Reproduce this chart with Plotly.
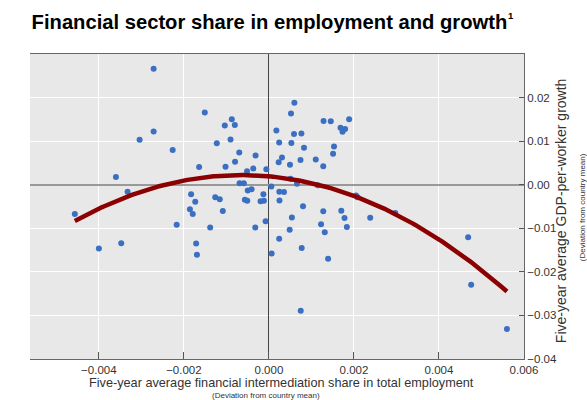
import numpy as np
import plotly.graph_objects as go

# Scatter data (deviation from country mean)
fin_share = [
    -0.002712, -0.001509, -0.000873, -0.001038, -0.000802, 0.000175, -0.002712, -0.003042,
    -0.001226, -0.000903, 0.000241, -0.002264, -0.000698, -0.000314, -0.000797, 0.000229,
    -0.001642, -0.001021, -0.000368, -0.000514, -0.000061, -0.003599, -0.000691, -0.000590,
    0.000057, -0.000498, -0.000408, -0.003325, -0.001830, -0.000130, 0.000245, 0.000354,
    -0.001262, -0.001156, -0.000566, -0.000509, -0.000196, -0.000118, 0.000248, -0.001733,
    -0.004566, -0.001858, -0.001792, -0.001085, -0.002170, -0.001382, -0.000321, -0.000078,
    -0.001712, -0.001693, 0.000064, -0.004000, -0.003474, 0.000241, 0.000599, 0.000519,
    0.001285, 0.001455, 0.001887, 0.001684, 0.001792, 0.001731, 0.000590, 0.000764,
    0.000528, 0.000825, 0.001531, 0.001509, 0.000307, 0.000743, 0.001101, 0.000495,
    0.001278, 0.000507, 0.000660, 0.001149, 0.002050, 0.002085, 0.000802, 0.002972,
    0.001278, 0.001703, 0.000540, 0.001778, 0.002382, 0.001226, 0.000488, 0.001314,
    0.001833, 0.000771, 0.001392, 0.000748, 0.004686, 0.004757, 0.005599,
]
gdp_growth = [
    0.02664, 0.01657, 0.01503, 0.01359, 0.01373, 0.01245, 0.01222, 0.01030,
    0.00954, 0.01039, 0.00970, 0.00794, 0.00741, 0.00668, 0.00526, 0.00513,
    0.00405, 0.00410, 0.00371, 0.00307, 0.00355, 0.00176, 0.00032, 0.00032,
    -0.00041, -0.00133, -0.00105, -0.00160, -0.00220, -0.00220, -0.00162, -0.00167,
    -0.00288, -0.00334, -0.00346, -0.00366, -0.00380, -0.00366, -0.00362, -0.00389,
    -0.00670, -0.00561, -0.00670, -0.00602, -0.00918, -0.00984, -0.00984, -0.00838,
    -0.01350, -0.01609, -0.01579, -0.01465, -0.01341, -0.01243, 0.01881, 0.01634,
    0.01465, 0.01458, 0.01503, 0.01309, 0.01281, 0.01213, 0.01165, 0.01176,
    0.00959, 0.00847, 0.00879, 0.00709, 0.00627, 0.00565, 0.00581, 0.00458,
    0.00421, 0.00137, 0.00023, -0.00011, -0.00247, -0.00286, -0.00494, -0.00652,
    -0.00609, -0.00595, -0.00755, -0.00762, -0.00757, -0.00906, -0.01032, -0.01089,
    -0.00968, -0.01455, -0.01700, -0.02890, -0.01204, -0.02295, -0.03309,
]

# Quadratic fit coefficients (y = a*x^2 + b*x + c)
fit_coefs = [-685.8, -0.883, 0.00194]

x_ticks = [-0.004, -0.002, 0.000, 0.002, 0.004, 0.006]
y_ticks = [0.02, 0.01, 0.00, -0.01, -0.02, -0.03, -0.04]

curve_x = np.linspace(min(fin_share), max(fin_share), 300)
curve_y = np.polyval(fit_coefs, curve_x)

FONT = "Liberation Sans, Arial, sans-serif"

fig = go.Figure()
fig.add_trace(go.Scatter(
    x=fin_share, y=gdp_growth, mode="markers",
    marker=dict(size=6, color="#3a6fc2"),
    showlegend=False, hoverinfo="skip",
))
fig.add_trace(go.Scatter(
    x=curve_x, y=curve_y, mode="lines",
    line=dict(color="#8b0000", width=4.5),
    showlegend=False, hoverinfo="skip",
))

fig.update_layout(
    width=587, height=400,
    margin=dict(l=30, r=63.4, t=54, b=40.5),
    paper_bgcolor="white", plot_bgcolor="#e8e8e8",
    font=dict(family=FONT, color="#333333"),
    title=dict(
        text="<b>Financial sector share in employment and growth</b>",
        font=dict(size=20.2, color="black", family=FONT),
        x=0.459, xanchor="center", xref="container",
        y=0.946, yanchor="middle", yref="container",
    ),
    xaxis=dict(
        range=[-0.00562, 0.006], tickvals=x_ticks, tickformat=".3f",
        ticks="inside", ticklen=7, tickcolor="#555555",
        showgrid=True, gridcolor="white", gridwidth=1,
        zeroline=True, zerolinecolor="#444444", zerolinewidth=1,
        showline=True, linecolor="#666666", linewidth=1, mirror=True,
        tickfont=dict(size=11.5, color="#333333"),
    ),
    yaxis=dict(
        range=[-0.04, 0.03], tickvals=y_ticks, tickformat=".2f", side="right",
        ticks="inside", ticklen=5, tickcolor="#555555",
        showgrid=True, gridcolor="white", gridwidth=1,
        zeroline=True, zerolinecolor="#999999", zerolinewidth=2,
        showline=True, linecolor="#666666", linewidth=1,
        tickfont=dict(size=11.5, color="#333333"),
    ),
    annotations=[
        dict(text="<b>1</b>", xref="paper", yref="paper", x=0.9735, y=1.127,
             xanchor="center", yanchor="middle", showarrow=False,
             font=dict(size=9.5, color="black")),
        dict(text="Five-year average financial intermediation share in total employment",
             xref="paper", yref="paper", x=0.5085, y=0, xanchor="center", yanchor="middle",
             yshift=-23.5, showarrow=False, font=dict(size=12.7, color="#333333")),
        dict(text="(Deviation from country mean)",
             xref="paper", yref="paper", x=0.478, y=0, xanchor="center", yanchor="middle",
             yshift=-36.5, showarrow=False, font=dict(size=8, color="#333333")),
        dict(text="Five-year average GDP-per-worker growth",
             xref="paper", yref="paper", x=1, y=0.486, xanchor="center", yanchor="middle",
             xshift=36.4, textangle=-90, showarrow=False, font=dict(size=14, color="#333333")),
        dict(text="(Deviation from country mean)",
             xref="paper", yref="paper", x=1, y=0.499, xanchor="center", yanchor="middle",
             xshift=58.4, textangle=-90, showarrow=False, font=dict(size=8, color="#333333")),
    ],
)

fig.write_html("out.html")
